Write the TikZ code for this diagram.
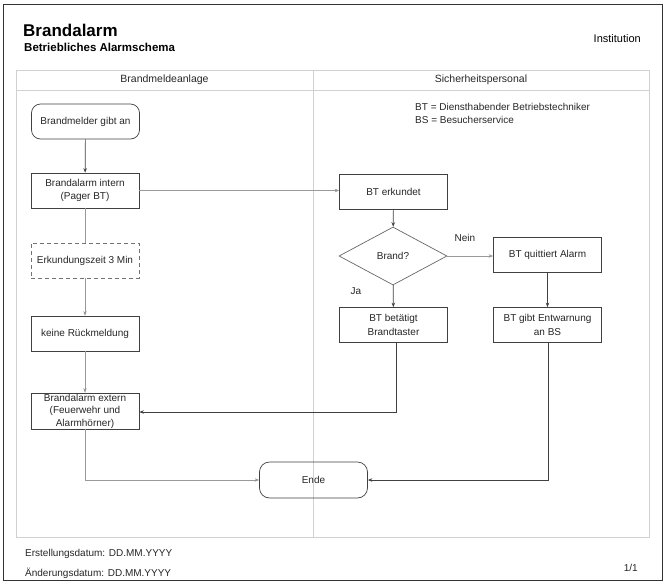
\documentclass[tikz,border=0pt]{standalone}
\usepackage{fontspec}
\setmainfont{Liberation Sans}
\usetikzlibrary{arrows.meta,shapes.geometric}
\tikzset{
  boxstyle/.style={draw=black!75, line width=0.7pt, minimum width=108pt, minimum height=35pt, align=center, font=\fontsize{10}{13.5}\selectfont, text=black!85, inner sep=1pt},
  roundbox/.style={boxstyle, rounded corners=9pt},
  dashbox/.style={boxstyle, draw=black!55, dash pattern=on 4pt off 3pt},
  decision/.style={diamond, aspect=1.86, draw=black!60, line width=0.7pt, minimum width=108pt, minimum height=58pt, inner sep=0pt, font=\fontsize{10}{12}\selectfont, text=black!85},
  darkline/.style={draw=black!75, line width=0.7pt, -{Stealth[length=4.5pt,width=3.5pt]}},
  grayline/.style={draw=black!40, line width=0.7pt, -{Stealth[length=4.5pt,width=3.5pt,fill=black!75]}},
  grayplain/.style={draw=black!40, line width=0.7pt},
  lane/.style={draw=black!18, line width=0.7pt},
  lbl/.style={font=\fontsize{10}{12}\selectfont, text=black!85, inner sep=0pt},
}
\begin{document}
\begin{tikzpicture}[x=1pt,y=-1pt]
\useasboundingbox (0,0) rectangle (665,582);
% page frame
\draw[black!80, line width=1pt] (3,4) rectangle (662,580);
% header
\node[anchor=base west, font=\bfseries\fontsize{17}{20}\selectfont, inner sep=0pt] (title) at (23,36) {Brandalarm};
\node[anchor=base west, font=\bfseries\fontsize{11.5}{14}\selectfont, inner sep=0pt] (subtitle) at (24,51) {Betriebliches Alarmschema};
\node[anchor=base east, font=\fontsize{11}{13}\selectfont, inner sep=0pt] (inst) at (641,42) {Institution};
% swimlanes
\draw[lane] (16,70) rectangle (649,537);
\draw[lane] (16,90) -- (649,90);
\draw[lane] (313,70) -- (313,537);
\node[lbl, font=\fontsize{10.5}{12}\selectfont] (lane1) at (164.5,80) {Brandmeldeanlage};
\node[lbl, font=\fontsize{10.5}{12}\selectfont] (lane2) at (481,80) {Sicherheitspersonal};
% legend
\node[lbl, anchor=base west] (leg1) at (415,110) {BT = Diensthabender Betriebstechniker};
\node[lbl, anchor=base west] (leg2) at (415,123) {BS = Besucherservice};
% nodes
\node[roundbox] (bm) at (85.5,121.5) {Brandmelder gibt an};
\node[boxstyle] (bi) at (85,190.5) {Brandalarm intern\\(Pager BT)};
\node[dashbox] (ez) at (85,260.5) {Erkundungszeit 3 Min};
\node[boxstyle] (kr) at (85,333.5) {keine Rückmeldung};
\node[boxstyle, minimum height=36pt] (be) at (85,411) {};
\node[lbl, align=center, font=\fontsize{10}{12.5}\selectfont] (betext) at (be.center) {Brandalarm extern\\(Feuerwehr und\\Alarmhörner)};
\node[roundbox, minimum height=36pt, rounded corners=10pt] (ende) at (313.5,480) {Ende};
\node[boxstyle] (bte) at (393.5,191.5) {BT erkundet};
\node[decision] (brand) at (393,256) {Brand?};
\node[boxstyle] (btq) at (547.5,255) {BT quittiert Alarm};
\node[boxstyle] (btb) at (393.5,325) {BT betätigt\\Brandtaster};
\node[boxstyle] (btg) at (547.5,325) {BT gibt Entwarnung\\an BS};
\node[lbl] (nein) at (465,238) {Nein};
\node[lbl] (ja) at (356,291) {Ja};
% connectors
\draw[darkline] (bm) -- (bi);
\draw[grayplain] (bi) -- (ez);
\draw[grayline] (ez) -- (kr);
\draw[grayline] (kr) -- (be);
\draw[grayline] (bi.east) -- (bi.east -| bte.west);
\draw[darkline] (bte) -- (brand);
\draw[grayline] (brand.east) -- (brand.east -| btq.west);
\draw[darkline] (brand) -- (btb);
\draw[darkline] (btq) -- (btg);
\coordinate (c1) at (396,412);
\draw[darkline] (btb.south -| c1) -- (c1) -- (c1 -| be.east);
\coordinate (c2) at (548,480);
\draw[darkline] (btg.south -| c2) -- (c2) -- (ende.east);
\draw[grayline] (be.south) |- (ende.west);
% footer
\node[lbl, anchor=base west] (f1) at (25,556) {Erstellungsdatum: DD.MM.YYYY};
\node[lbl, anchor=base west] (f2) at (25,576) {Änderungsdatum: DD.MM.YYYY};
\node[lbl, anchor=base east] (pg) at (638,571) {1/1};
\end{tikzpicture}
\end{document}
